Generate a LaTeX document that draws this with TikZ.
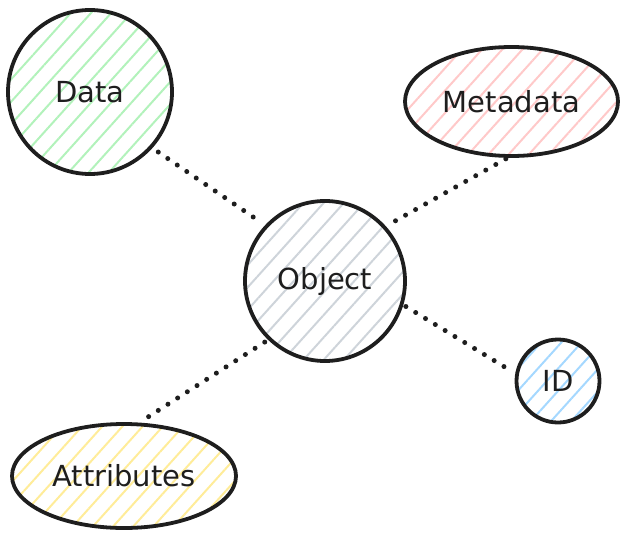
\documentclass[tikz,border=0pt]{standalone}
\usepackage{fontspec}
\setmainfont{DejaVu Sans}
\usetikzlibrary{shapes.geometric,patterns.meta}
\definecolor{hgreen}{HTML}{B2F2BB}
\definecolor{hred}{HTML}{FFC9C9}
\definecolor{hgray}{HTML}{CED4DA}
\definecolor{hblue}{HTML}{A5D8FF}
\definecolor{hyellow}{HTML}{FFEC99}
\definecolor{ink}{HTML}{1E1E1E}
\tikzset{
  blob/.style={draw=ink, line width=3.8pt, inner sep=0pt, text=ink,
    font=\fontsize{29}{34}\selectfont},
  hatch/.style={pattern={Lines[angle=48,distance=15pt,line width=2pt]}, pattern color=#1},
  dotline/.style={draw=ink, line width=5pt, line cap=round, dash pattern=on 0pt off 11.5pt}
}
\begin{document}
\begin{tikzpicture}[x=1pt,y=-1pt]
\useasboundingbox (0,0) rectangle (628,540);
\node[blob, circle, hatch=hgreen, minimum size=164pt] (data) at (90,92) {Data};
\node[blob, ellipse, hatch=hred, minimum width=213pt, minimum height=109pt] (meta) at (511.5,101.5) {Metadata};
\node[blob, circle, hatch=hgray, minimum size=160pt] (obj) at (325,281) {Object};
\node[blob, circle, hatch=hblue, minimum size=83pt] (id) at (558,381) {ID};
\node[blob, ellipse, hatch=hyellow, minimum width=224pt, minimum height=104pt] (attr) at (124,476) {Attributes};
\draw[dotline, shorten <=8pt, shorten >=7pt] (data.-42) -- (obj.137);
\draw[dotline, shorten <=2pt, shorten >=9pt] (meta.-94) -- (obj.42);
\draw[dotline, shorten <=3pt, shorten >=3pt] (obj.-17) -- (id.170);
\draw[dotline, shorten <=4pt, shorten >=2pt] (obj.-134) -- (attr.74);
\end{tikzpicture}
\end{document}
